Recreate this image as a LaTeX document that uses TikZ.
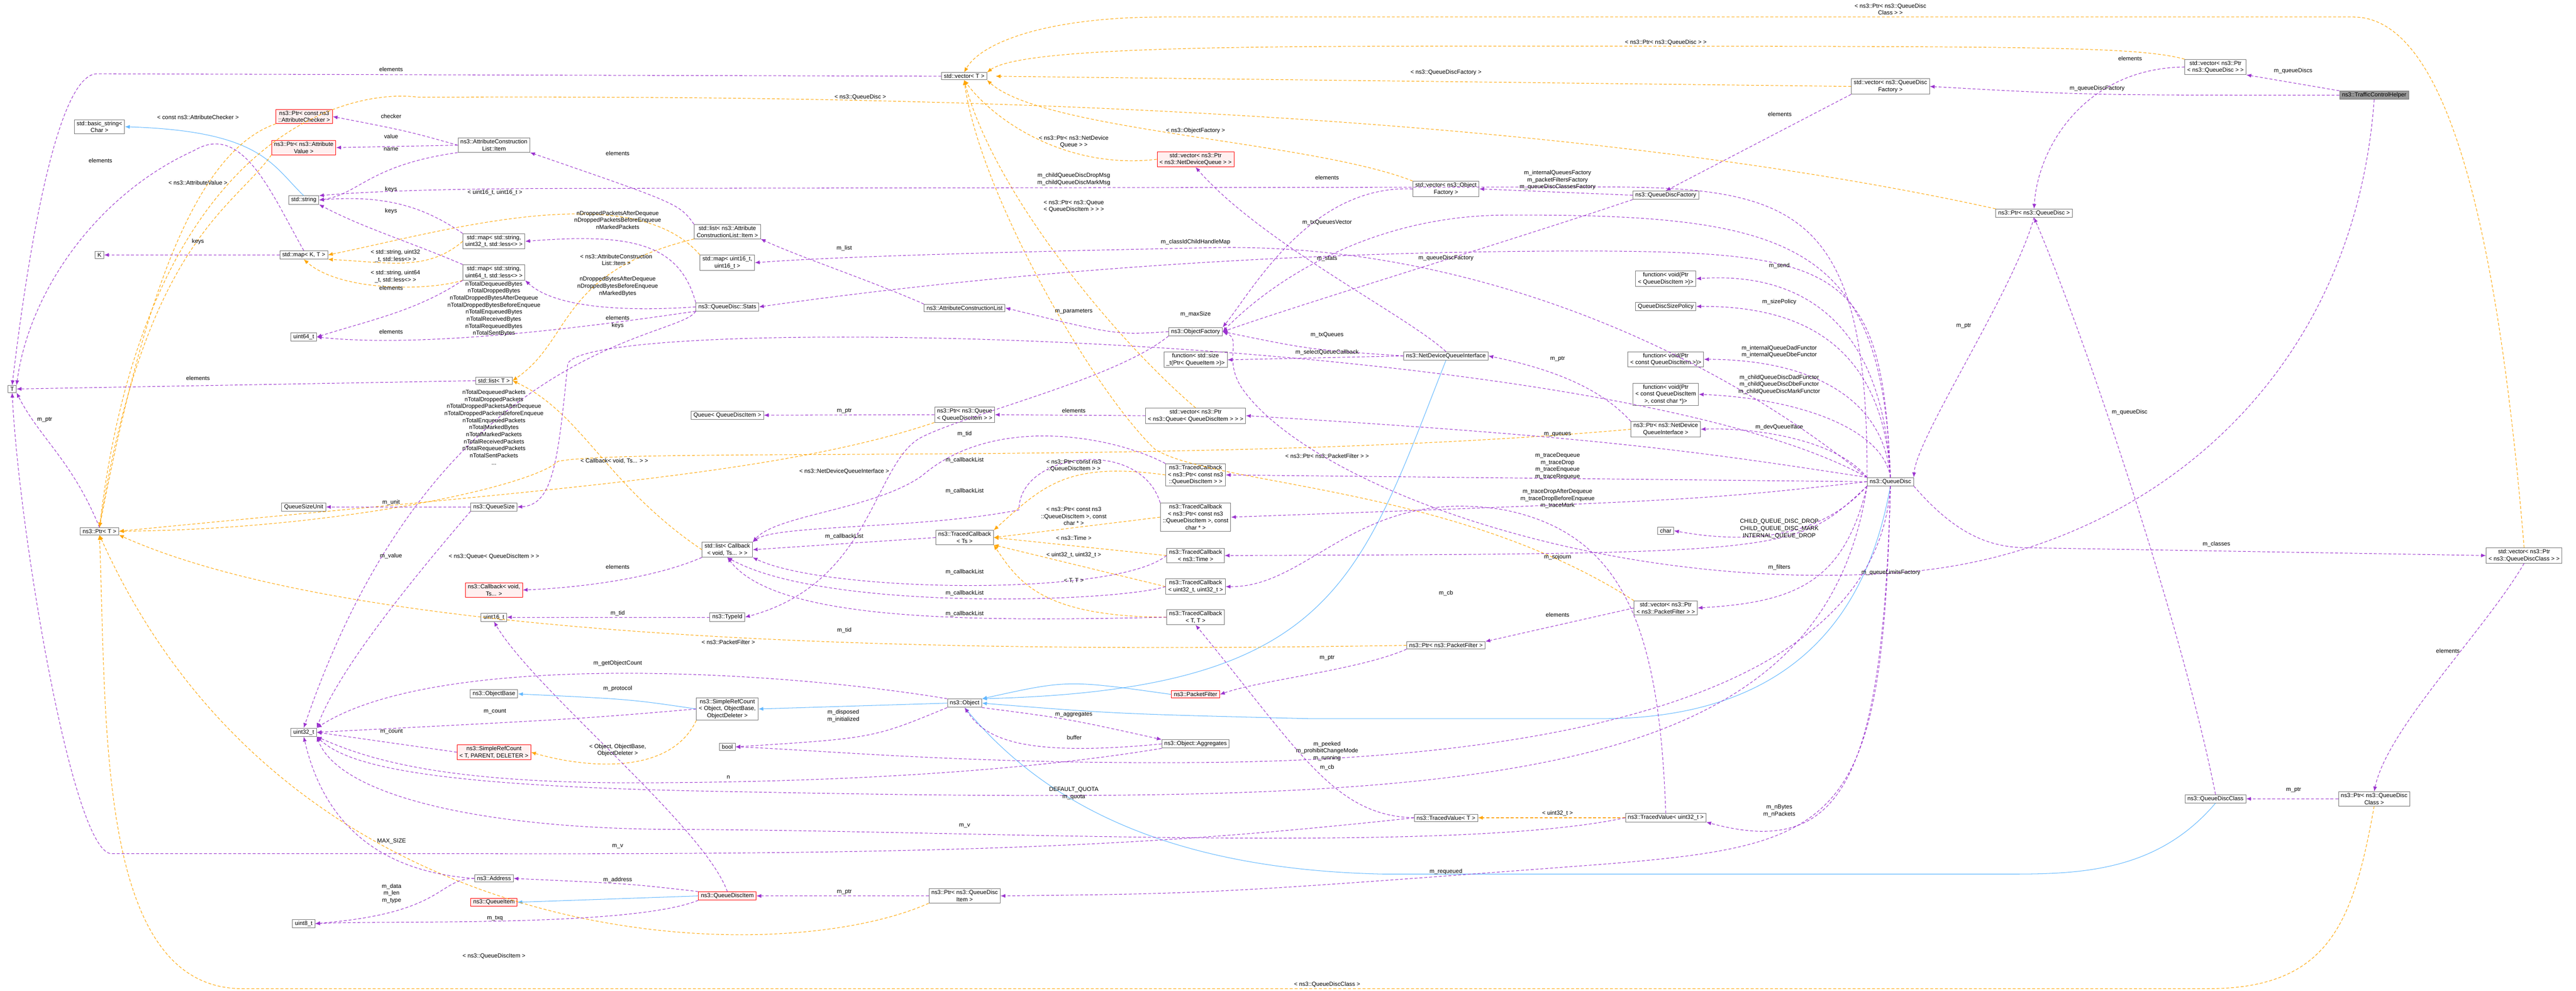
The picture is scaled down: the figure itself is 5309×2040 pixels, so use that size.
\documentclass[tikz,border=0pt]{standalone}
\usepackage{fontspec}
\setmainfont{Liberation Sans}
\usetikzlibrary{arrows.meta}
\definecolor{usec}{HTML}{9A32CD}
\definecolor{tmplc}{HTML}{FFA500}
\definecolor{inhc}{HTML}{63B8FF}
\definecolor{redb}{HTML}{FF0000}
\definecolor{redf}{HTML}{FFF0F0}
\tikzset{
 box/.style={draw=black!55,fill=white,line width=1pt,align=center,inner xsep=5pt,inner ysep=3pt,font=\fontsize{12}{14.5}\selectfont},
 rbox/.style={box,draw=redb,fill=redf},
 gbox/.style={box,fill=black!40},
 lbl/.style={align=center,inner sep=1pt,font=\fontsize{12}{14.5}\selectfont},
 use/.style={draw=usec,line width=1.1pt,dash pattern=on 6pt off 4pt,-{Latex[length=10pt,width=8pt]}},
 tmpl/.style={draw=tmplc,line width=1.1pt,dash pattern=on 6pt off 4pt,-{Latex[length=10pt,width=8pt]}},
 inh/.style={draw=inhc,line width=1.1pt,-{Latex[length=10pt,width=8pt]}},
}
\begin{document}
\begin{tikzpicture}[x=1pt,y=-1pt]
\useasboundingbox (0,0) rectangle (5309,2040);
% nodes
\node[box] (bs) at (205,261) {std::basic\_string<\\Char >};
\node[rbox] (pchk) at (627,240) {ns3::Ptr< const ns3\\::AttributeChecker >};
\node[rbox] (pav) at (626,304) {ns3::Ptr< ns3::Attribute\\Value >};
\node[box] (aitem) at (1018,299) {ns3::AttributeConstruction\\List::Item};
\node[box] (str) at (626,412) {std::string};
\node[box] (K) at (205,525) {K};
\node[box] (mapkt) at (626,525) {std::map< K, T >};
\node[box] (m32) at (1018,497) {std::map< std::string,\\uint32\_t, std::less<> >};
\node[box] (m64) at (1018,561) {std::map< std::string,\\uint64\_t, std::less<> >};
\node[box] (u64) at (626,694) {uint64\_t};
\node[box] (T) at (25,801) {T};
\node[box] (listT) at (1018,784) {std::list< T >};
\node[box] (qsu) at (626,1044) {QueueSizeUnit};
\node[box] (qsize) at (1018,1044) {ns3::QueueSize};
\node[box] (ptrT) at (205,1094) {ns3::Ptr< T >};
\node[rbox] (cbv) at (1018,1215) {ns3::Callback< void,\\Ts... >};
\node[box] (u16) at (1018,1271) {uint16\_t};
\node[box] (obase) at (1018,1429) {ns3::ObjectBase};
\node[box] (u32) at (626,1508) {uint32\_t};
\node[rbox] (srcT) at (1018,1549) {ns3::SimpleRefCount\\< T, PARENT, DELETER >};
\node[box] (addr) at (1018,1809) {ns3::Address};
\node[rbox] (qitem) at (1018,1858) {ns3::QueueItem};
\node[box] (u8) at (626,1902) {uint8\_t};
\node[box] (vecT) at (1987,157) {std::vector< T >};
\node[rbox] (vndq) at (2464,328) {std::vector< ns3::Ptr\\< ns3::NetDeviceQueue > >};
\node[box] (lai) at (1499,477) {std::list< ns3::Attribute\\ConstructionList::Item >};
\node[box] (m16) at (1499,541) {std::map< uint16\_t,\\uint16\_t >};
\node[box] (stats) at (1499,632) {ns3::QueueDisc::Stats};
\node[box] (acl) at (1988,634) {ns3::AttributeConstructionList};
\node[box] (ofac) at (2464,683) {ns3::ObjectFactory};
\node[box] (fsz) at (2464,741) {function< std::size\\\_t(Ptr< QueueItem >)>};
\node[box] (qqdi) at (1499,855) {Queue< QueueDiscItem >};
\node[box] (pq) at (1988,854) {ns3::Ptr< ns3::Queue\\< QueueDiscItem > >};
\node[box] (vpq) at (2464,856) {std::vector< ns3::Ptr\\< ns3::Queue< QueueDiscItem > > >};
\node[box] (tc1) at (2464,978) {ns3::TracedCallback\\< ns3::Ptr< const ns3\\::QueueDiscItem > >};
\node[box] (tc2) at (2464,1065) {ns3::TracedCallback\\< ns3::Ptr< const ns3\\::QueueDiscItem >, const\\char * >};
\node[box] (tcts) at (1988,1107) {ns3::TracedCallback\\< Ts >};
\node[box] (lcb) at (1499,1132) {std::list< Callback\\< void, Ts... > >};
\node[box] (tctime) at (2464,1144) {ns3::TracedCallback\\< ns3::Time >};
\node[box] (tcu32) at (2464,1208) {ns3::TracedCallback\\< uint32\_t, uint32\_t >};
\node[box] (tctt) at (2464,1271) {ns3::TracedCallback\\< T, T >};
\node[box] (typeid) at (1499,1271) {ns3::TypeId};
\node[box] (srco) at (1499,1460) {ns3::SimpleRefCount\\< Object, ObjectBase,\\ObjectDeleter >};
\node[box] (obj) at (1988,1448) {ns3::Object};
\node[rbox] (pfilt) at (2464,1430) {ns3::PacketFilter};
\node[box] (bool) at (1499,1538) {bool};
\node[box] (aggr) at (2464,1532) {ns3::Object::Aggregates};
\node[rbox] (qdi) at (1499,1845) {ns3::QueueDiscItem};
\node[box] (pqdi) at (1988,1845) {ns3::Ptr< ns3::QueueDisc\\Item >};
\node[box] (vof) at (2980,389) {std::vector< ns3::Object\\Factory >};
\node[box] (qdf) at (3433,402) {ns3::QueueDiscFactory};
\node[box] (vqdf) at (3896,178) {std::vector< ns3::QueueDisc\\Factory >};
\node[box] (fsend) at (3433,574) {function< void(Ptr\\< QueueDiscItem >)>};
\node[box] (qdsp) at (3433,631) {QueueDiscSizePolicy};
\node[box] (ndqi) at (2980,733) {ns3::NetDeviceQueueInterface};
\node[box] (fcq) at (3433,740) {function< void(Ptr\\< const QueueDiscItem >)>};
\node[box] (fcqc) at (3433,812) {function< void(Ptr\\< const QueueDiscItem\\>, const char *)>};
\node[box] (pndqi) at (3433,884) {ns3::Ptr< ns3::NetDevice\\QueueInterface >};
\node[box] (qd) at (3896,992) {ns3::QueueDisc};
\node[box] (chr) at (3433,1093) {char};
\node[box] (vpf) at (3433,1252) {std::vector< ns3::Ptr\\< ns3::PacketFilter > >};
\node[box] (ppf) at (2980,1329) {ns3::Ptr< ns3::PacketFilter >};
\node[box] (tvT) at (2980,1684) {ns3::TracedValue< T >};
\node[box] (tvu) at (3433,1684) {ns3::TracedValue< uint32\_t >};
\node[box] (vpqd) at (4566,138) {std::vector< ns3::Ptr\\< ns3::QueueDisc > >};
\node[gbox] (tch) at (4893,196) {ns3::TrafficControlHelper};
\node[box] (pqd) at (4192,439) {ns3::Ptr< ns3::QueueDisc >};
\node[box] (vqdc) at (5202,1144) {std::vector< ns3::Ptr\\< ns3::QueueDiscClass > >};
\node[box] (qdc) at (4566,1645) {ns3::QueueDiscClass};
\node[box] (pqdc) at (4893,1645) {ns3::Ptr< ns3::QueueDisc\\Class >};

% inheritance
\draw[inh] (str.north) .. controls (560,340) and (540,270) .. (bs.east);
\draw[inh] (srco.west) .. controls (1300,1440) .. (obase.east);
\draw[inh] (obj.west) -- (srco.east);
\draw[inh] (pfilt.west) .. controls (2200,1400) .. (obj.north east);
\draw[inh] (ndqi.south) .. controls (2800,1200) and (2750,1420) .. (obj.north east);
\draw[inh] (qd.south) .. controls (3860,1200) and (3750,1480) .. (3300,1480) -- (2700,1480) .. controls (2300,1470) .. (obj.east);
\draw[inh] (qdc.south) .. controls (4450,1790) and (4300,1800) .. (4150,1800) -- (2850,1800) .. controls (2400,1790) and (2150,1650) .. (obj.south);
\draw[inh] (qdi.west) -- (qitem.east);

% template
\draw[tmpl] (pchk.south west) .. controls (380,320) and (280,700) .. (ptrT.north);
\draw[tmpl] (pav.south west) .. controls (480,430) and (300,500) .. (ptrT.north);
\draw[tmpl] (pqd.north west) .. controls (3000,185) and (1400,200) .. (860,200) .. controls (700,180) and (300,300) .. (ptrT.north);
\draw[tmpl] (m32.west) .. controls (880,560) and (800,540) .. (mapkt.south east);
\draw[tmpl] (m64.south west) .. controls (880,600) and (700,600) .. (mapkt.south);
\draw[tmpl] (m16.north west) .. controls (1300,360) and (900,480) .. (mapkt.east);
\draw[tmpl] (lai.south west) .. controls (1150,560) and (1180,700) .. (listT.east);
\draw[tmpl] (lcb.west) .. controls (1250,1000) and (1200,850) .. (listT.east);
\draw[tmpl] (pq.south west) .. controls (1600,980) and (1100,1010) .. (ptrT.east);
\draw[tmpl] (pndqi.west) .. controls (2500,960) and (1300,920) .. (1150,950) .. controls (1100,1000) and (700,1090) .. (ptrT.east);
\draw[tmpl] (ppf.west) .. controls (2200,1340) and (800,1350) .. (ptrT.south east);
\draw[tmpl] (pqdi.south west) .. controls (1600,2000) and (600,1980) .. (ptrT.south);
\draw[tmpl] (pqdc.south) .. controls (4850,1900) and (4800,2036) .. (4550,2036) -- (500,2036) .. controls (200,2036) and (220,1500) .. (ptrT.south);
\draw[tmpl] (vpqd.north west) .. controls (4400,95) and (4200,95) .. (3000,95) .. controls (2500,95) and (2100,100) .. (vecT.north east);
\draw[tmpl] (vqdc.north) .. controls (5150,500) and (5050,35) .. (4850,35) -- (2400,35) .. controls (2150,35) and (2020,90) .. (vecT.north);
\draw[tmpl] (vqdf.west) -- (2052,157);
\draw[tmpl] (vof.north west) .. controls (2700,290) and (2150,270) .. (vecT.south east);
\draw[tmpl] (vndq.west) .. controls (2200,350) and (2050,250) .. (vecT.south);
\draw[tmpl] (vpq.north) .. controls (2300,700) and (2050,400) .. (vecT.south);
\draw[tmpl] (vpf.north west) .. controls (3000,1000) and (2500,1000) .. (2380,925) .. controls (2250,800) and (2020,400) .. (vecT.south);
\draw[tmpl] (tc1.west) .. controls (2200,950) and (2150,1000) .. (tcts.north east);
\draw[tmpl] (tc2.west) -- (tcts.east);
\draw[tmpl] (tctime.west) -- (tcts.east);
\draw[tmpl] (tcu32.west) -- (tcts.south east);
\draw[tmpl] (tctt.west) .. controls (2150,1270) and (2100,1200) .. (tcts.south east);
\draw[tmpl] (srco.south west) .. controls (1380,1600) and (1200,1580) .. (srcT.east);
\draw[tmpl] (tvu.west) -- (tvT.east);

% usage
\draw[use] (vecT.west) -- (200,152) .. controls (120,152) and (60,500) .. (T.north);
\draw[use] (aitem.west) .. controls (840,270) .. (pchk.east);
\draw[use] (aitem.west) -- (pav.east);
\draw[use] (aitem.south west) .. controls (760,340) and (740,400) .. (str.east);
\draw[use] (m32.north west) .. controls (880,430) and (800,400) .. (str.east);
\draw[use] (m64.north west) .. controls (850,500) and (750,470) .. (str.south east);
\draw[use] (mapkt.west) -- (K.east);
\draw[use] (mapkt.north) .. controls (560,400) and (500,250) .. (400,310) .. controls (200,400) and (60,600) .. (T.north east);
\draw[use] (lai.north west) .. controls (1400,420) .. (aitem.south east);
\draw[use] (stats.north west) .. controls (1400,500) and (1300,480) .. (m32.east);
\draw[use] (stats.west) .. controls (1320,640) and (1150,640) .. (m64.south east);
\draw[use] (m64.south west) .. controls (860,640) and (760,660) .. (u64.east);
\draw[use] (stats.south west) .. controls (1300,660) and (900,720) .. (u64.east);
\draw[use] (listT.west) -- (T.east);
\draw[use] (stats.south west) .. controls (1400,700) and (900,700) .. (u32.north);
\draw[use] (qd.north west) .. controls (3300,680) and (1200,640) .. (1170,750) .. controls (1150,950) and (1140,1040) .. (qsize.east);
\draw[use] (qsize.west) -- (qsu.east);
\draw[use] (qsize.south west) .. controls (800,1250) and (690,1400) .. (u32.north east);
\draw[use] (ptrT.north) .. controls (150,950) and (80,900) .. (T.south east);
\draw[use] (lcb.south west) .. controls (1350,1190) and (1200,1210) .. (cbv.east);
\draw[use] (typeid.west) -- (u16.east);
\draw[use] (obj.north west) .. controls (1600,1380) and (900,1340) .. (u32.north east);
\draw[use] (srco.west) .. controls (1200,1480) .. (u32.east);
\draw[use] (srcT.west) -- (u32.east);
\draw[use] (aggr.south west) .. controls (2100,1590) and (1700,1612) .. (1300,1612) .. controls (900,1612) and (750,1560) .. (u32.south east);
\draw[use] (qd.south west) .. controls (3750,1640) and (3000,1660) .. (1500,1630) .. controls (900,1620) and (720,1580) .. (u32.south east);
\draw[use] (addr.west) .. controls (850,1800) and (680,1750) .. (u32.south);
\draw[use] (addr.west) .. controls (900,1810) and (920,1880) .. (u8.east);
\draw[use] (qdi.north west) .. controls (1300,1820) .. (addr.east);
\draw[use] (qdi.south west) .. controls (1300,1910) and (800,1895) .. (u8.east);
\draw[use] (qdi.north) .. controls (1450,1700) and (1100,1420) .. (u16.south);
\draw[use] (pqdi.west) -- (qdi.east);
\draw[use] (obj.south west) .. controls (1800,1520) .. (bool.east);
\draw[use] (obj.south east) .. controls (2200,1480) .. (aggr.north west);
\draw[use] (aggr.west) .. controls (2100,1560) and (2030,1520) .. (obj.south);
\draw[use] (qd.south) .. controls (3870,1400) and (3300,1560) .. (2500,1570) .. controls (2000,1575) and (1700,1545) .. (bool.east);
\draw[use] (tvT.west) .. controls (2400,1740) and (2000,1760) .. (1000,1758) -- (230,1758) .. controls (150,1758) and (40,1100) .. (T.south);
\draw[use] (tvu.west) .. controls (3000,1760) and (2000,1710) .. (1400,1708) .. controls (1000,1708) and (700,1640) .. (u32.south east);
\draw[use] (tvT.west) .. controls (2750,1680) and (2680,1550) .. (tctt.south);
\draw[use] (tvu.north) .. controls (3420,1300) and (3350,1100) .. (3100,1050) .. controls (2800,1000) and (2700,1210) .. (tcu32.east);
\draw[use] (qd.south) .. controls (3880,1600) and (3800,1770) .. (tvu.south east);
\draw[use] (qd.south) .. controls (3880,1700) and (3800,1740) .. (3300,1780) .. controls (2500,1840) .. (pqdi.east);
\draw[use] (tcts.west) -- (lcb.east);
\draw[use] (tc1.north west) .. controls (2300,900) and (2050,850) .. (1900,980) .. controls (1800,1050) and (1600,1060) .. (lcb.north east);
\draw[use] (tc2.north west) .. controls (2350,900) and (2100,930) .. (2100,1050) .. controls (1900,1090) and (1600,1080) .. (lcb.north east);
\draw[use] (tctime.west) .. controls (2300,1230) and (1700,1220) .. (lcb.south east);
\draw[use] (tcu32.west) .. controls (2300,1240) and (1700,1260) .. (lcb.south);
\draw[use] (tctt.west) .. controls (2000,1280) and (1600,1280) .. (lcb.south);
\draw[use] (pq.west) -- (qqdi.east);
\draw[use] (vpq.west) -- (pq.east);
\draw[use] (qd.north west) .. controls (3500,930) and (3300,900) .. (vpq.east);
\draw[use] (qd.west) -- (tc1.east);
\draw[use] (qd.west) .. controls (3500,1030) .. (tc2.east);
\draw[use] (qd.south west) .. controls (3700,1140) .. (tctime.east);
\draw[use] (qd.south west) .. controls (3750,1110) and (3600,1120) .. (chr.east);
\draw[use] (qd.south west) .. controls (3800,1200) and (3700,1240) .. (vpf.east);
\draw[use] (vpf.west) -- (ppf.north east);
\draw[use] (ppf.south west) .. controls (2800,1380) and (2600,1400) .. (pfilt.east);
\draw[use] (qd.north west) .. controls (3780,900) and (3600,880) .. (pndqi.east);
\draw[use] (pndqi.north west) .. controls (3300,800) and (3200,760) .. (ndqi.east);
\draw[use] (qd.north) .. controls (3880,880) and (3700,820) .. (fcqc.east);
\draw[use] (qd.north) .. controls (3880,800) and (3700,740) .. (fcq.east);
\draw[use] (qd.north) .. controls (3880,700) and (3700,630) .. (qdsp.east);
\draw[use] (qd.north) .. controls (3880,650) and (3700,560) .. (fsend.east);
\draw[use] (qd.north) .. controls (3880,560) and (3800,520) .. (3300,517) .. controls (2600,515) and (2000,570) .. (stats.east);
\draw[use] (qd.north) .. controls (3880,500) and (3700,440) .. (3100,443) .. controls (2800,445) and (2600,600) .. (ofac.east);
\draw[use] (qd.north west) .. controls (3850,430) and (3700,385) .. (3300,385) -- (1200,388) .. controls (900,388) and (750,395) .. (str.north east);
\draw[use] (qd.north west) .. controls (3500,700) and (3000,500) .. (2500,510) .. controls (2000,520) and (1700,530) .. (m16.east);
\draw[use] (ndqi.north) .. controls (2900,650) and (2600,500) .. (vndq.south);
\draw[use] (ndqi.west) -- (fsz.east);
\draw[use] (ndqi.west) .. controls (2700,720) .. (ofac.east);
\draw[use] (vof.west) .. controls (2700,380) and (2580,600) .. (ofac.north east);
\draw[use] (qdf.west) -- (vof.east);
\draw[use] (qdf.south west) .. controls (3100,500) and (2700,620) .. (ofac.east);
\draw[use] (vqdf.south west) -- (qdf.north);
\draw[use] (tch.west) .. controls (4300,196) .. (vqdf.east);
\draw[use] (tch.north west) -- (vpqd.south east);
\draw[use] (vpqd.west) .. controls (4300,140) and (4200,300) .. (pqd.north);
\draw[use] (pqd.south) .. controls (4150,600) and (3950,900) .. (qd.north east);
\draw[use] (tch.south) .. controls (4850,800) and (4400,1150) .. (3900,1180) .. controls (3300,1220) and (2700,1000) .. (2560,800) .. controls (2520,740) and (2560,700) .. (ofac.east);
\draw[use] (qd.south east) .. controls (4030,1100) and (4100,1128) .. (4180,1128) -- (vqdc.west);
\draw[use] (vqdc.south) .. controls (5120,1300) and (4920,1500) .. (pqdc.north);
\draw[use] (pqdc.west) -- (qdc.east);
\draw[use] (qdc.north) .. controls (4500,1300) and (4300,700) .. (pqd.south);
\draw[use] (acl.north west) .. controls (1800,580) and (1650,530) .. (lai.south east);
\draw[use] (ofac.west) .. controls (2300,690) .. (acl.east);
\draw[use] (ofac.south west) .. controls (2300,780) and (2000,850) .. (1900,900) .. controls (1800,950) and (1800,1200) .. (typeid.east);

% labels
\node[lbl] (l1) at (806,143) {elements};
\node[lbl] (l2) at (806,239) {checker};
\node[lbl] (l3) at (806,281) {value};
\node[lbl] (l4) at (806,307) {name};
\node[lbl] (l5) at (408,241) {< const ns3::AttributeChecker >};
\node[lbl] (l6) at (207,331) {elements};
\node[lbl] (l7) at (408,376) {< ns3::AttributeValue >};
\node[lbl] (l8) at (806,390) {keys};
\node[lbl] (l9) at (1020,397) {< uint16\_t, uint16\_t >};
\node[lbl] (l10) at (806,435) {keys};
\node[lbl] (l11) at (1273,316) {elements};
\node[lbl] (l12) at (1273,453) {nDroppedPacketsAfterDequeue\\nDroppedPacketsBeforeEnqueue\\nMarkedPackets};
\node[lbl] (l13) at (408,498) {keys};
\node[lbl] (l14) at (815,527) {< std::string, uint32\\\_t, std::less<> >};
\node[lbl] (l15) at (815,570) {< std::string, uint64\\\_t, std::less<> >};
\node[lbl] (l16) at (1270,535) {< ns3::AttributeConstruction\\List::Item >};
\node[lbl] (l17) at (1273,590) {nDroppedBytesAfterDequeue\\nDroppedBytesBeforeEnqueue\\nMarkedBytes};
\node[lbl] (l18) at (806,593) {elements};
\node[lbl] (l19) at (1018,636) {nTotalDequeuedBytes\\nTotalDroppedBytes\\nTotalDroppedBytesAfterDequeue\\nTotalDroppedBytesBeforeEnqueue\\nTotalEnqueuedBytes\\nTotalReceivedBytes\\nTotalRequeuedBytes\\nTotalSentBytes};
\node[lbl] (l20) at (806,683) {elements};
\node[lbl] (l21) at (1273,663) {elements\\keys};
\node[lbl] (l22) at (408,779) {elements};
\node[lbl] (l23) at (1018,880) {nTotalDequeuedPackets\\nTotalDroppedPackets\\nTotalDroppedPacketsAfterDequeue\\nTotalDroppedPacketsBeforeEnqueue\\nTotalEnqueuedPackets\\nTotalMarkedBytes\\nTotalMarkedPackets\\nTotalReceivedPackets\\nTotalRequeuedPackets\\nTotalSentPackets\\...};
\node[lbl] (l24) at (92,864) {m\_ptr};
\node[lbl] (l25) at (1266,949) {< Callback< void, Ts... > >};
\node[lbl] (l26) at (806,1035) {m\_unit};
\node[lbl] (l27) at (806,1145) {m\_value};
\node[lbl] (l28) at (1018,1146) {< ns3::Queue< QueueDiscItem > >};
\node[lbl] (l29) at (1273,1167) {elements};
\node[lbl] (l30) at (1273,1263) {m\_tid};
\node[lbl] (l31) at (1273,1366) {m\_getObjectCount};
\node[lbl] (l32) at (1273,1418) {m\_protocol};
\node[lbl] (l33) at (1020,1465) {m\_count};
\node[lbl] (l34) at (807,1507) {m\_count};
\node[lbl] (l35) at (1273,1545) {< Object, ObjectBase,\\ObjectDeleter >};
\node[lbl] (l36) at (807,1733) {MAX\_SIZE};
\node[lbl] (l37) at (1273,1743) {m\_v};
\node[lbl] (l38) at (1273,1812) {m\_address};
\node[lbl] (l39) at (807,1840) {m\_data\\m\_len\\m\_type};
\node[lbl] (l40) at (1020,1891) {m\_txq};
\node[lbl] (l41) at (1018,1969) {< ns3::QueueDiscItem >};
\node[lbl] (l42) at (1773,200) {< ns3::QueueDisc >};
\node[lbl] (l43) at (2213,292) {< ns3::Ptr< ns3::NetDevice\\Queue > >};
\node[lbl] (l44) at (2464,269) {< ns3::ObjectFactory >};
\node[lbl] (l45) at (2213,369) {m\_childQueueDiscDropMsg\\m\_childQueueDiscMarkMsg};
\node[lbl] (l46) at (2213,425) {< ns3::Ptr< ns3::Queue\\< QueueDiscItem > > >};
\node[lbl] (l47) at (2464,499) {m\_classIdChildHandleMap};
\node[lbl] (l48) at (1740,511) {m\_list};
\node[lbl] (l49) at (2213,641) {m\_parameters};
\node[lbl] (l50) at (2464,647) {m\_maxSize};
\node[lbl] (l51) at (1740,971) {< ns3::NetDeviceQueueInterface >};
\node[lbl] (l52) at (1740,846) {m\_ptr};
\node[lbl] (l53) at (2213,846) {elements};
\node[lbl] (l54) at (1988,893) {m\_tid};
\node[lbl] (l55) at (1988,948) {m\_callbackList};
\node[lbl] (l56) at (2213,959) {< ns3::Ptr< const ns3\\::QueueDiscItem > >};
\node[lbl] (l57) at (1988,1011) {m\_callbackList};
\node[lbl] (l58) at (2213,1063) {< ns3::Ptr< const ns3\\::QueueDiscItem >, const\\char * >};
\node[lbl] (l59) at (1740,1105) {m\_callbackList};
\node[lbl] (l60) at (2213,1108) {< ns3::Time >};
\node[lbl] (l61) at (2213,1143) {< uint32\_t, uint32\_t >};
\node[lbl] (l62) at (1988,1178) {m\_callbackList};
\node[lbl] (l63) at (2213,1196) {< T, T >};
\node[lbl] (l64) at (1988,1222) {m\_callbackList};
\node[lbl] (l65) at (1988,1264) {m\_callbackList};
\node[lbl] (l66) at (1740,1298) {m\_tid};
\node[lbl] (l67) at (1501,1322) {< ns3::PacketFilter >};
\node[lbl] (l68) at (1738,1474) {m\_disposed\\m\_initialized};
\node[lbl] (l69) at (2213,1472) {m\_aggregates};
\node[lbl] (l70) at (2214,1519) {buffer};
\node[lbl] (l71) at (1501,1601) {n};
\node[lbl] (l72) at (2213,1634) {DEFAULT\_QUOTA\\m\_quota};
\node[lbl] (l73) at (1988,1701) {m\_v};
\node[lbl] (l74) at (1740,1837) {m\_ptr};
\node[lbl] (l75) at (3433,88) {< ns3::Ptr< ns3::QueueDisc > >};
\node[lbl] (l76) at (3896,19) {< ns3::Ptr< ns3::QueueDisc\\Class > >};
\node[lbl] (l77) at (2980,149) {< ns3::QueueDiscFactory >};
\node[lbl] (l78) at (3668,235) {elements};
\node[lbl] (l79) at (2735,366) {elements};
\node[lbl] (l80) at (3210,371) {m\_internalQueuesFactory\\m\_packetFiltersFactory\\m\_queueDiscClassesFactory};
\node[lbl] (l81) at (2735,458) {m\_txQueuesVector};
\node[lbl] (l82) at (2735,533) {m\_stats};
\node[lbl] (l83) at (2980,532) {m\_queueDiscFactory};
\node[lbl] (l84) at (3667,547) {m\_send};
\node[lbl] (l85) at (3667,622) {m\_sizePolicy};
\node[lbl] (l86) at (2735,690) {m\_txQueues};
\node[lbl] (l87) at (2735,726) {m\_selectQueueCallback};
\node[lbl] (l88) at (3210,739) {m\_ptr};
\node[lbl] (l89) at (3667,724) {m\_internalQueueDadFunctor\\m\_internalQueueDbeFunctor};
\node[lbl] (l90) at (3667,792) {m\_childQueueDiscDadFunctor\\m\_childQueueDiscDbeFunctor\\m\_childQueueDiscMarkFunctor};
\node[lbl] (l91) at (3667,880) {m\_devQueueIface};
\node[lbl] (l92) at (3210,895) {m\_queues};
\node[lbl] (l93) at (2735,939) {< ns3::Ptr< ns3::PacketFilter > >};
\node[lbl] (l94) at (3210,960) {m\_traceDequeue\\m\_traceDrop\\m\_traceEnqueue\\m\_traceRequeue};
\node[lbl] (l95) at (3210,1027) {m\_traceDropAfterDequeue\\m\_traceDropBeforeEnqueue\\m\_traceMark};
\node[lbl] (l96) at (3667,1089) {CHILD\_QUEUE\_DISC\_DROP\\CHILD\_QUEUE\_DISC\_MARK\\INTERNAL\_QUEUE\_DROP};
\node[lbl] (l97) at (3210,1147) {m\_sojourn};
\node[lbl] (l98) at (3667,1168) {m\_filters};
\node[lbl] (l99) at (3897,1179) {m\_queueLimitsFactory};
\node[lbl] (l100) at (2980,1222) {m\_cb};
\node[lbl] (l101) at (3210,1266) {elements};
\node[lbl] (l102) at (2735,1355) {m\_ptr};
\node[lbl] (l103) at (2735,1547) {m\_peeked\\m\_prohibitChangeMode\\m\_running};
\node[lbl] (l104) at (2735,1581) {m\_cb};
\node[lbl] (l105) at (3210,1675) {< uint32\_t >};
\node[lbl] (l106) at (3667,1670) {m\_nBytes\\m\_nPackets};
\node[lbl] (l107) at (2980,1795) {m\_requeued};
\node[lbl] (l108) at (2735,2027) {< ns3::QueueDiscClass >};
\node[lbl] (l109) at (4390,120) {elements};
\node[lbl] (l110) at (4726,146) {m\_queueDiscs};
\node[lbl] (l111) at (4322,182) {m\_queueDiscFactory};
\node[lbl] (l112) at (4047,671) {m\_ptr};
\node[lbl] (l113) at (4389,849) {m\_queueDisc};
\node[lbl] (l114) at (4568,1121) {m\_classes};
\node[lbl] (l115) at (5045,1340) {elements};
\node[lbl] (l116) at (4727,1627) {m\_ptr};
\end{tikzpicture}
\end{document}
